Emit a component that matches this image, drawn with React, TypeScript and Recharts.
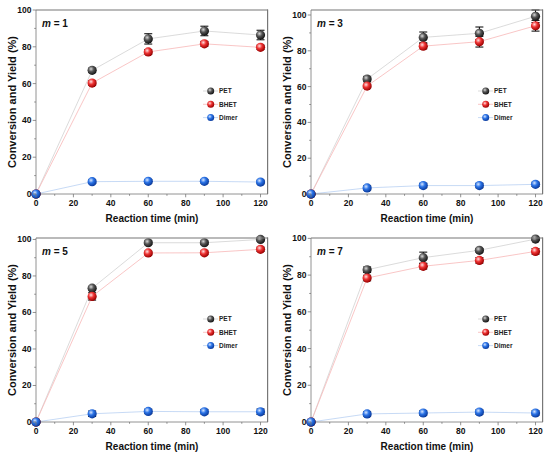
import { ComposedChart, Line, XAxis, YAxis, ErrorBar } from "recharts"

const times = [0, 30, 60, 90, 120]
const xTicks = [0, 10, 20, 30, 40, 50, 60, 70, 80, 90, 100, 110, 120]
const yTicks = [0, 10, 20, 30, 40, 50, 60, 70, 80, 90, 100]
const seriesNames = ["PET", "BHET", "Dimer"]
const mValues = [1, 3, 5, 7]

// conversion / yield (%)
const pet1 = [0, 67.2, 84.3, 88.6, 86.4]
const bhet1 = [0, 60.3, 77.2, 81.6, 79.7]
const dimer1 = [0, 6.7, 6.9, 6.9, 6.5]
const petErr1 = [0, 1.2, 2.8, 2.6, 2.6]
const bhetErr1 = [0, 1.2, 1.3, 1.3, 1.2]
const dimerErr1 = [0, 1, 1, 1, 1]

const pet3 = [0, 64.2, 87.5, 89.8, 99.3]
const bhet3 = [0, 60.3, 82.6, 85.1, 94.0]
const dimer3 = [0, 3.4, 4.7, 4.7, 5.4]
const petErr3 = [0, 1.5, 3, 3.5, 3.5]
const bhetErr3 = [0, 1, 1.5, 3, 3]
const dimerErr3 = [0, 1.2, 1.2, 1.2, 1.2]

const pet5 = [0, 73.3, 98.2, 98.2, 100]
const bhet5 = [0, 68.8, 92.6, 92.7, 94.6]
const dimer5 = [0, 4.5, 5.8, 5.6, 5.6]
const petErr5 = [0, 1, 1, 1, 0.8]
const bhetErr5 = [0, 2, 1, 1, 1.2]
const dimerErr5 = [0, 1.5, 1.2, 1.2, 1.5]

const pet7 = [0, 82.9, 89.5, 93.5, 99.6]
const bhet7 = [0, 78.4, 84.8, 88.0, 92.9]
const dimer7 = [0, 4.4, 4.9, 5.4, 4.9]
const petErr7 = [0, 1.5, 3, 1, 0.6]
const bhetErr7 = [0, 1.5, 1.5, 1.5, 1.5]
const dimerErr7 = [0, 1.2, 1.2, 1.2, 1.2]

const panelSeries = [
  [pet1, bhet1, dimer1, petErr1, bhetErr1, dimerErr1],
  [pet3, bhet3, dimer3, petErr3, bhetErr3, dimerErr3],
  [pet5, bhet5, dimer5, petErr5, bhetErr5, dimerErr5],
  [pet7, bhet7, dimer7, petErr7, bhetErr7, dimerErr7],
]

const FONT = "'Liberation Sans', Arial, sans-serif"
const AXIS = "#777"

// panel layout
const W = 275
const H = 228
const margin = { top: 10, right: 7, bottom: 0, left: 8 }
const Y_W = 28
const X_H = 34
const plotLeft = margin.left + Y_W
const plotRight = W - margin.right
const plotTop = margin.top
const plotBottom = H - margin.bottom - X_H

const balls = [
  { id: "pet", hi: "#d8d8d8", mid: "#555", lo: "#151515", line: "#d2d2d2" },
  { id: "bhet", hi: "#ffe0e0", mid: "#ee3333", lo: "#9a0000", line: "#f7b8b8" },
  { id: "dimer", hi: "#d6e6ff", mid: "#2b73e6", lo: "#0a3a9c", line: "#b9d0f2" },
]

function Gradients({ prefix }: { prefix: string }) {
  return (
    <defs>
      {balls.map((b) => (
        <radialGradient key={b.id} id={prefix + b.id} cx="38%" cy="35%" r="65%">
          <stop offset="0%" stopColor={b.hi} />
          <stop offset="45%" stopColor={b.mid} />
          <stop offset="100%" stopColor={b.lo} />
        </radialGradient>
      ))}
    </defs>
  )
}

function YTick(props: any) {
  const { x, y, payload } = props
  const major = payload.value % 20 === 0
  return (
    <g>
      <line x1={x} x2={x - (major ? 3.3 : 1.8)} y1={y} y2={y} stroke={AXIS} strokeWidth={0.8} />
      {major && (
        <text x={x - 4.5} y={y} dy="0.35em" textAnchor="end" fontSize={8.5} fontWeight={700} fill="#111" fontFamily={FONT}>
          {payload.value}
        </text>
      )}
    </g>
  )
}

function XTick(props: any) {
  const { x, y, payload } = props
  const major = payload.value % 20 === 0
  return (
    <g>
      <line x1={x} x2={x} y1={y} y2={y + (major ? 3.3 : 1.8)} stroke={AXIS} strokeWidth={0.8} />
      {major && (
        <text x={x} y={y + 12} textAnchor="middle" fontSize={8.5} fontWeight={700} fill="#111" fontFamily={FONT}>
          {payload.value}
        </text>
      )}
    </g>
  )
}

function Panel({ index }: { index: number }) {
  const s = panelSeries[index]
  const prefix = "g" + index
  const data = times.map((t, i) => ({
    t,
    pet: s[0][i],
    bhet: s[1][i],
    dimer: s[2][i],
    petErr: s[3][i],
    bhetErr: s[4][i],
    dimerErr: s[5][i],
  }))
  const keys = ["pet", "bhet", "dimer"]

  return (
    <div style={{ position: "absolute", left: (index % 2) * W, top: Math.floor(index / 2) * H, width: W, height: H }}>
      <ComposedChart width={W} height={H} data={data} margin={margin}>
        <Gradients prefix={prefix} />
        <XAxis
          dataKey="t"
          type="number"
          domain={[0, 124]}
          ticks={xTicks}
          interval={0}
          height={X_H}
          tickSize={0}
          tickMargin={0}
          tickLine={false}
          tick={<XTick />}
          axisLine={{ stroke: AXIS, strokeWidth: 0.8 }}
          label={{ value: "Reaction time (min)", position: "insideBottom", offset: 6, style: { fontSize: 10, fontWeight: 700, fill: "#111", fontFamily: FONT } }}
        />
        <YAxis
          type="number"
          domain={[0, 100]}
          ticks={yTicks}
          interval={0}
          width={Y_W}
          tickSize={0}
          tickMargin={0}
          tickLine={false}
          tick={<YTick />}
          axisLine={{ stroke: AXIS, strokeWidth: 0.8 }}
          label={{ value: "Conversion and Yield (%)", angle: -90, position: "insideLeft", offset: 4, style: { textAnchor: "middle", fontSize: 11, fontWeight: 700, fill: "#111", fontFamily: FONT } }}
        />
        {keys.map((k, j) => (
          <Line
            key={k}
            dataKey={k}
            type="linear"
            stroke={balls[j].line}
            strokeWidth={0.8}
            isAnimationActive={false}
            activeDot={false}
            dot={(p: any) => (
              <circle key={p.index} cx={p.cx} cy={p.cy} r={4.6} fill={`url(#${prefix}${balls[j].id})`} />
            )}
          >
            <ErrorBar dataKey={k + "Err"} width={4} stroke="#000" strokeWidth={1} direction="y" />
          </Line>
        ))}
      </ComposedChart>
      <svg width={W} height={H} style={{ position: "absolute", left: 0, top: 0, pointerEvents: "none" }}>
        <Gradients prefix={prefix + "l"} />
        {/* top and right frame */}
        <rect x={plotLeft} y={plotTop - 0.5} width={plotRight - plotLeft} height={1} fill={AXIS} />
        <rect x={plotRight - 1} y={plotTop - 0.5} width={1.2} height={plotBottom - plotTop + 0.5} fill={AXIS} />
        <text x={42} y={27} fontSize={10} fontWeight={700} fill="#111" fontFamily={FONT}>
          <tspan fontStyle="italic">m</tspan> = {mValues[index]}
        </text>
        {seriesNames.map((name, j) => (
          <g key={name}>
            <line x1={203} x2={218} y1={91 + j * 13.3} y2={91 + j * 13.3} stroke={balls[j].line} strokeWidth={0.8} />
            <circle cx={210.7} cy={91 + j * 13.3} r={3.5} fill={`url(#${prefix}l${balls[j].id})`} />
            <text x={219} y={91 + j * 13.3} dy="0.35em" fontSize={6.5} fontWeight={700} fill="#222" fontFamily={FONT}>
              {name}
            </text>
          </g>
        ))}
      </svg>
    </div>
  )
}

export default function App() {
  return (
    <div style={{ position: "absolute", left: 0, top: 0, width: 550, height: 457, background: "#fff" }}>
      {[0, 1, 2, 3].map((i) => (
        <Panel key={i} index={i} />
      ))}
    </div>
  )
}
